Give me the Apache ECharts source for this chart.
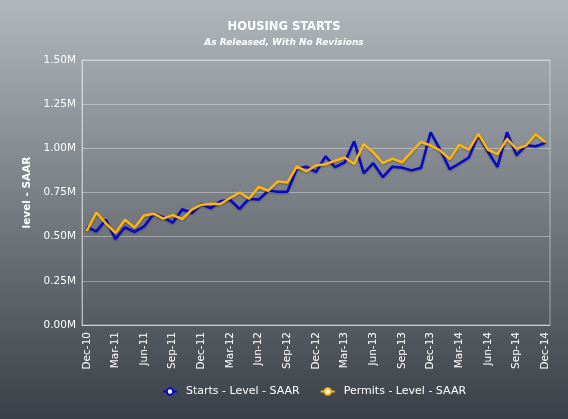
<!DOCTYPE html>
<html>
<head>
<meta charset="utf-8">
<script src="https://cdn.jsdelivr.net/npm/echarts@6/dist/echarts.min.js"></script>
<style>html,body{margin:0;padding:0;}#c{width:568px;height:419px;}</style>
</head>
<body>
<div id="c"></div>
<script>
const categories = ['Dec-10',
 'Jan-11','Feb-11','Mar-11','Apr-11','May-11','Jun-11','Jul-11','Aug-11','Sep-11','Oct-11','Nov-11','Dec-11',
 'Jan-12','Feb-12','Mar-12','Apr-12','May-12','Jun-12','Jul-12','Aug-12','Sep-12','Oct-12','Nov-12','Dec-12',
 'Jan-13','Feb-13','Mar-13','Apr-13','May-13','Jun-13','Jul-13','Aug-13','Sep-13','Oct-13','Nov-13','Dec-13',
 'Jan-14','Feb-14','Mar-14','Apr-14','May-14','Jun-14','Jul-14','Aug-14','Sep-14','Oct-14','Nov-14','Dec-14'];
// values in millions (SAAR)
const starts = [0.555,0.530,0.596,0.487,0.553,0.527,0.558,0.630,0.611,0.579,0.655,0.634,0.685,
 0.662,0.700,0.709,0.657,0.715,0.710,0.761,0.754,0.754,0.885,0.896,0.866,
 0.955,0.893,0.920,1.040,0.860,0.916,0.837,0.896,0.891,0.875,0.890,1.091,
 0.993,0.882,0.914,0.948,1.076,0.982,0.895,1.091,0.961,1.018,1.012,1.031];
const permits = [0.532,0.637,0.575,0.521,0.596,0.551,0.620,0.630,0.602,0.622,0.600,0.653,0.681,
 0.685,0.685,0.719,0.750,0.715,0.782,0.760,0.813,0.806,0.898,0.870,0.903,
 0.910,0.930,0.948,0.911,1.024,0.977,0.916,0.942,0.921,0.980,1.036,1.016,
 0.988,0.939,1.020,0.992,1.082,0.992,0.967,1.054,0.997,1.016,1.080,1.035];
const yTicks = [0, 0.25, 0.5, 0.75, 1.0, 1.25, 1.5];

const FONT = 'DejaVu Sans';
const chart = echarts.init(document.getElementById('c'));
chart.setOption({
  animation: false,
  backgroundColor: {
    type: 'linear', x: 0, y: 0, x2: 0, y2: 1,
    colorStops: [{offset: 0, color: '#b2b7bc'}, {offset: 1, color: '#3a4047'}]
  },
  title: {
    text: 'HOUSING STARTS',
    subtext: 'As Released, With No Revisions',
    left: 'center', top: 16, itemGap: 5,
    textStyle: {fontFamily: FONT, fontSize: 11.5, fontWeight: 'bold', color: '#ffffff'},
    subtextStyle: {fontFamily: FONT, fontSize: 9, fontWeight: 'bold', fontStyle: 'italic', color: '#ffffff'}
  },
  legend: {
    left: 157, top: 381,
    itemWidth: 14, itemHeight: 8, itemGap: 20,
    textStyle: {fontFamily: FONT, fontSize: 11, color: '#ffffff', padding: [0,0,0,4]},
    data: ['Starts - Level - SAAR', 'Permits - Level - SAAR']
  },
  grid: {left: 82, right: 18, top: 60, bottom: 94, show: true, borderColor: 'rgba(255,255,255,0.45)', borderWidth: 1},
  xAxis: {
    type: 'category', data: categories, boundaryGap: true,
    axisLine: {lineStyle: {color: 'rgba(255,255,255,0.45)'}},
    axisTick: {show: false},
    axisLabel: {interval: 2, rotate: 90, margin: 7, fontFamily: FONT, fontSize: 10.5, color: '#ffffff'}
  },
  yAxis: {
    type: 'value', min: 0, max: 1.5, interval: 0.25,
    name: 'level - SAAR', nameLocation: 'middle', nameGap: 47, nameRotate: 90,
    nameTextStyle: {fontFamily: FONT, fontSize: 10.5, fontWeight: 'bold', color: '#ffffff'},
    axisLine: {show: true, lineStyle: {color: 'rgba(255,255,255,0.45)'}},
    axisTick: {show: false},
    splitLine: {lineStyle: {color: 'rgba(255,255,255,0.35)'}},
    axisLabel: {margin: 6, fontFamily: FONT, fontSize: 10.5, color: '#ffffff',
      formatter: v => yTicks.indexOf(v) >= 0 ? v.toFixed(2) + 'M' : ''}
  },
  series: [
    {name: 'Starts - Level - SAAR', type: 'line', data: starts, showSymbol: false, symbol: 'circle', symbolSize: 7,
     lineStyle: {color: '#0808c8', width: 2.5, shadowColor: 'rgba(0,0,0,0.3)', shadowBlur: 2, shadowOffsetY: 1},
     itemStyle: {color: '#ffffff', borderColor: '#0808c8', borderWidth: 2}},
    {name: 'Permits - Level - SAAR', type: 'line', data: permits, showSymbol: false, symbol: 'circle', symbolSize: 7,
     lineStyle: {color: '#ffb60a', width: 2.5, shadowColor: 'rgba(0,0,0,0.3)', shadowBlur: 2, shadowOffsetY: 1},
     itemStyle: {color: '#ffffff', borderColor: '#ffb60a', borderWidth: 2}}
  ]
});
</script>
</body>
</html>
